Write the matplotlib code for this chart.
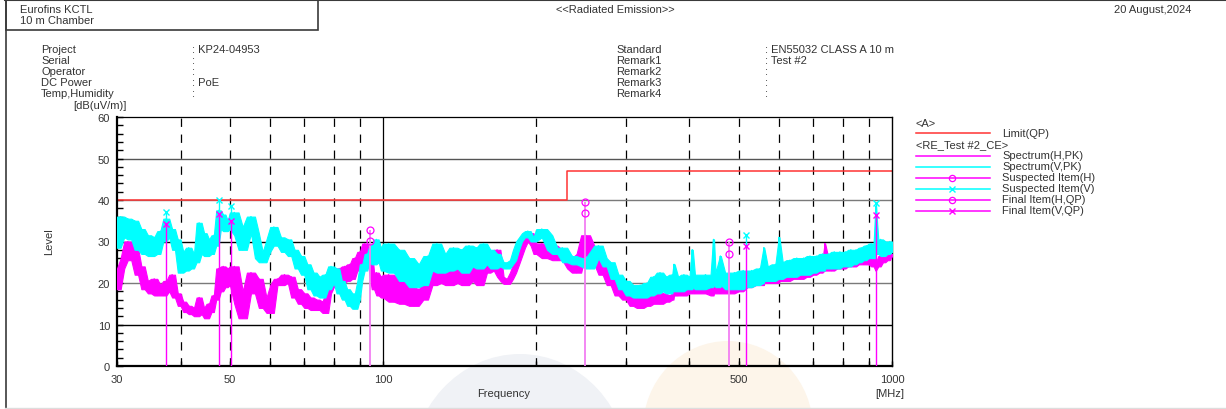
import matplotlib
matplotlib.use("Agg")
import matplotlib.pyplot as plt
from matplotlib.ticker import FixedLocator, FixedFormatter, MultipleLocator, NullFormatter
from matplotlib.patches import Ellipse, Rectangle

plt.rcParams["font.family"] = ["Liberation Sans", "DejaVu Sans"]
plt.rcParams["lines.scale_dashes"] = False

# ---------------- sweep data ----------------
FREQ_MHZ = [
    30.0, 30.5, 31.0, 31.5, 32.0, 32.5, 33.0, 33.5, 34.0, 34.5,
    35.0, 35.5, 36.0, 36.5, 37.0, 37.5, 38.0, 38.5, 39.0, 39.5,
    40.0, 40.5, 41.0, 41.5, 42.0, 42.5, 43.0, 43.5, 44.0, 44.5,
    45.0, 45.5, 46.0, 46.5, 47.0, 47.5, 48.0, 48.5, 49.0, 49.5,
    50, 51, 52, 53, 54, 55, 56, 57, 58, 59,
    60, 61, 62, 63, 64, 65, 66, 67, 68, 69,
    70, 71, 72, 73, 74, 75, 76, 77, 78, 79,
    80, 81, 82, 83, 84, 85, 86, 87, 88, 89,
    90, 91, 92, 93, 94, 95, 96, 97, 98, 99,
    100, 102.5, 105, 107.5, 110, 112.5, 115, 117.5, 120, 122.5,
    125, 127.5, 130, 132.5, 135, 137.5, 140, 142.5, 145, 147.5,
    150, 152.5, 155, 157.5, 160, 162.5, 165, 167.5, 170, 172.5,
    175, 177.5, 180, 182.5, 185, 187.5, 190, 192.5, 195, 197.5,
    200, 205, 210, 215, 220, 225, 230, 235, 240, 245,
    250, 255, 260, 265, 270, 275, 280, 285, 290, 295,
    300, 305, 310, 315, 320, 325, 330, 335, 340, 345,
    350, 355, 360, 365, 370, 372, 373, 374, 380, 385, 390, 395,
    400, 404, 405, 406, 410, 420, 430, 440, 445, 446, 447, 450, 459, 460, 461, 470, 480, 490,
    500, 510, 520, 530, 540, 550, 559, 560, 561, 570, 580, 590,
    599, 600, 601, 610, 620, 630, 640, 650, 660, 670, 680, 690,
    700, 710, 720, 730, 737, 738, 739, 750, 760, 770, 780, 790,
    800, 810, 820, 830, 840, 850, 860, 870, 880, 890,
    900, 910, 920, 928, 929, 930, 940, 950, 960, 970, 980, 990, 1000,
]

SPECTRUM_H_PK = [
    18.5, 23.5, 26.0, 30.0, 25.5, 28.5, 22.0, 24.0, 18.5, 20.5,
    17.5, 21.0, 17.0, 19.5, 17.0, 20.5, 18.0, 22.0, 16.5, 17.5,
    14.5, 15.5, 13.0, 14.5, 12.5, 14.0, 12.0, 16.5, 12.5, 14.0,
    11.5, 15.0, 13.0, 17.0, 16.0, 23.5, 18.0, 24.0, 19.0, 23.5,
    19.5, 24.0, 15.0, 11.5, 18.0, 22.5, 17.5, 21.0, 14.0, 16.5,
    12.8, 19.5, 21.0, 19.5, 22.0, 20.0, 21.5, 16.5, 18.5, 15.0,
    17.5, 14.0, 16.5, 13.5, 16.0, 13.5, 15.5, 12.8, 17.5, 19.0,
    21.5, 19.5, 23.5, 20.0, 24.0, 20.5, 24.5, 21.0, 26.0, 23.0,
    27.5, 24.5, 29.5, 26.5, 28.5, 22.0, 18.5, 22.5, 17.0, 21.5,
    16.5, 22.0, 15.5, 21.0, 15.0, 19.0, 14.5, 18.5, 16.0, 20.0,
    19.5, 23.0, 20.0, 22.5, 19.5, 23.5, 20.0, 22.5, 19.5, 24.0,
    20.5, 24.5, 19.5, 25.0, 22.5, 27.5, 23.0, 28.0, 21.5, 20.5,
    19.8, 21.0, 22.5, 24.5, 26.5, 28.5, 30.0, 31.0, 32.0, 29.0,
    27.0, 29.5, 26.0, 29.0, 25.5, 28.0, 26.0, 23.5, 22.5, 27.0,
    31.5, 29.0, 24.5, 27.0, 22.0, 24.5, 19.5, 21.0, 17.0, 18.5,
    16.0, 17.5, 14.5, 16.5, 14.0, 16.5, 14.5, 17.0, 15.0, 17.5,
    15.0, 17.5, 15.5, 17.0, 16.0, 17.5, 24.0, 17.0, 17.0, 19.0, 17.0, 19.0,
    17.5, 19.5, 17.5, 19.0, 17.5, 19.5, 17.5, 19.5, 17.0, 19.5, 17.5, 19.5, 17.5, 20.0, 17.5, 20.0, 17.5, 20.0,
    18.0, 21.0, 19.0, 21.5, 19.5, 22.0, 19.5, 22.0, 20.0, 22.5, 20.0, 22.5,
    20.0, 23.0, 20.5, 23.0, 20.5, 23.0, 21.0, 23.5, 21.0, 24.0, 21.5, 25.0,
    22.0, 25.5, 22.5, 25.5, 23.0, 29.5, 23.0, 26.0, 23.0, 26.0, 23.5, 26.5,
    23.5, 26.0, 24.0, 26.5, 24.0, 26.5, 24.5, 26.5, 24.5, 27.0,
    24.5, 26.5, 24.0, 25.5, 23.0, 25.0, 24.0, 26.5, 25.0, 27.0, 25.5, 27.0, 26.5,
]

SPECTRUM_V_PK = [
    28.5, 36.0, 31.0, 35.5, 30.5, 35.0, 28.0, 33.0, 27.0, 31.5,
    26.5, 31.0, 27.0, 32.5, 30.0, 35.5, 31.0, 33.0, 28.0, 30.5,
    22.5, 27.5, 23.0, 28.5, 23.5, 27.0, 25.0, 34.5, 27.0, 32.0,
    26.5, 30.5, 27.0, 31.5, 29.0, 37.5, 33.0, 36.5, 32.5, 35.0,
    33.0, 37.0, 31.5, 28.0, 33.5, 36.0, 32.0, 26.0, 25.0, 27.5,
    30.5, 33.5, 29.0, 31.0, 27.5, 30.5, 26.5, 28.0, 23.5, 26.5,
    22.0, 24.5, 18.5, 22.5, 17.0, 21.5, 16.5, 22.0, 18.5, 24.0,
    20.0, 23.5, 17.5, 20.5, 16.0, 18.5, 14.5, 17.5, 13.8, 16.0,
    20.5, 24.5, 23.0, 27.0, 25.0, 29.0, 24.5, 30.5, 25.0, 28.5,
    23.0, 29.5, 22.5, 28.0, 20.5, 26.0, 19.0, 24.5, 19.5, 26.5,
    23.0, 29.5, 22.5, 27.0, 23.0, 28.5, 23.5, 28.0, 22.5, 29.0,
    24.0, 28.5, 23.5, 29.5, 24.5, 28.0, 23.5, 27.0, 24.0, 25.0,
    23.5, 24.5, 25.5, 28.0, 30.0, 31.0, 32.0, 32.5, 31.0, 30.0,
    31.0, 33.0, 31.5, 28.0, 27.0, 28.5, 25.0, 26.5, 24.5, 26.0,
    24.0, 23.5, 27.5, 29.0, 26.0, 24.0, 25.0, 21.0, 22.0, 18.5,
    20.5, 17.0, 19.5, 16.5, 19.5, 16.5, 20.0, 17.0, 21.5, 17.5,
    22.5, 18.0, 21.5, 17.5, 22.0, 18.5, 24.5, 18.0, 21.5, 18.0, 22.0, 18.5,
    21.5, 18.5, 28.0, 19.0, 22.0, 18.5, 22.0, 19.0, 22.0, 30.5, 19.5, 22.5, 19.0, 26.5, 19.5, 22.5, 18.5, 22.5,
    18.5, 23.0, 19.0, 23.0, 19.5, 23.5, 20.0, 28.5, 20.5, 24.0, 20.5, 24.5,
    21.0, 31.0, 21.0, 25.0, 21.5, 25.5, 21.5, 26.0, 22.0, 26.0, 22.0, 26.5,
    22.5, 26.5, 23.0, 27.0, 23.0, 26.5, 23.5, 27.0, 23.5, 27.5, 23.5, 27.5,
    24.0, 27.5, 24.0, 28.0, 24.5, 28.0, 25.0, 28.5, 25.5, 29.0,
    26.0, 29.5, 26.0, 29.0, 38.5, 29.0, 27.0, 30.5, 26.5, 30.0, 27.0, 30.0, 27.5,
]

# Class A limit (quasi-peak), stepped at 230 MHz
LIMIT_FREQ = [30, 230, 1000]
LIMIT_QP = [40, 47, 47]

# Suspected / final items
SUSPECT_H_FREQ = [94.3, 249.4, 477.7]
SUSPECT_H_LEVEL = [32.8, 39.4, 30.0]
FINAL_H_LEVEL = [30.2, 36.8, 26.9]

SUSPECT_V_FREQ = [37.4, 47.7, 50.3, 517.0, 929.0]
SUSPECT_V_LEVEL = [37.0, 40.0, 38.5, 31.6, 39.2]
FINAL_V_LEVEL = [34.2, 36.6, 35.0, 28.8, 36.4]

X_TICKS = [30, 50, 100, 500, 1000]
X_TICK_LABELS = ["30", "50", "100", "500", "1000"]
X_MINOR = [40, 60, 70, 80, 90, 200, 300, 400, 600, 700, 800, 900]
X_DASHED = [40, 50, 60, 70, 80, 90, 200, 300, 400, 500, 600, 700, 800, 900]
Y_TICKS = [0, 10, 20, 30, 40, 50, 60]

HEADER_LEFT = [("Project", ": KP24-04953"), ("Serial", ":"), ("Operator", ":"),
               ("DC Power", ": PoE"), ("Temp,Humidity", ":")]
HEADER_RIGHT = [("Standard", ": EN55032 CLASS A 10 m"), ("Remark1", ": Test #2"),
                ("Remark2", ":"), ("Remark3", ":"), ("Remark4", ":")]

MAGENTA = "#ff00ff"
CYAN = "#00ffff"
RED = "#ff3333"
TXT = "#333333"


def sweep_band(values):
    """Lowest and highest reading among each sweep point and its neighbours."""
    n = len(values)
    lo = [min(values[max(0, i - 1):min(n, i + 2)]) for i in range(n)]
    hi = [max(values[max(0, i - 1):min(n, i + 2)]) for i in range(n)]
    return lo, hi


W, H = 1226, 410
fig = plt.figure(figsize=(W / 100, H / 100), dpi=100)
fig.patch.set_facecolor("white")

# background layer (pixel coordinates)
bg = fig.add_axes([0, 0, 1, 1], zorder=0)
bg.set_xlim(0, W)
bg.set_ylim(H, 0)
bg.axis("off")
bg.add_patch(Ellipse((520, 475), 220, 240, facecolor="#f0f2f6", edgecolor="none"))
bg.add_patch(Ellipse((728, 430), 170, 176, facecolor="#fdf5ea", edgecolor="none"))

# main plot
ax = fig.add_axes([117 / W, 1 - 367 / H, 775 / W, 249 / H], zorder=1)
ax.set_facecolor("none")
ax.set_xscale("log")
ax.set_xlim(30, 1000)
ax.set_ylim(0, 60)

for f in X_DASHED:
    ax.axvline(f, color="black", lw=0.9, ls=(0, (6.0, 5.5)), zorder=1)
ax.axvline(100, color="black", lw=0.9, zorder=1)
for lvl, col in [(10, "black"), (20, "#7a7a7a"), (30, "black"), (40, "#7a7a7a"), (50, "#555555")]:
    ax.axhline(lvl, color=col, lw=1.0, zorder=1)

ax.plot(LIMIT_FREQ, LIMIT_QP, drawstyle="steps-post", color=RED, lw=1.1, zorder=2)

# peak traces drawn as the noisy band each sweep covers
for values, col, z in [(SPECTRUM_H_PK, MAGENTA, 3), (SPECTRUM_V_PK, CYAN, 4)]:
    lo, hi = sweep_band(values)
    ax.fill_between(FREQ_MHZ, lo, hi, color=col, lw=0.8, edgecolor=col, zorder=z)
    ax.plot(FREQ_MHZ, values, color=col, lw=1.0, zorder=z)

# item stems: magenta up to the final reading, cyan on to the suspected V reading
ax.vlines(SUSPECT_V_FREQ, FINAL_V_LEVEL, SUSPECT_V_LEVEL, color=CYAN, lw=1.0, zorder=5)
ax.vlines(SUSPECT_V_FREQ, 0, FINAL_V_LEVEL, color=MAGENTA, lw=1.0, zorder=5)
ax.vlines(SUSPECT_H_FREQ, 0, SUSPECT_H_LEVEL, color="#f27ef2", lw=1.3, zorder=5)

ax.plot(SUSPECT_H_FREQ, SUSPECT_H_LEVEL, ls="none", marker="o", ms=5, mfc="none",
        mec=MAGENTA, mew=0.9, zorder=6)
ax.plot(SUSPECT_H_FREQ, FINAL_H_LEVEL, ls="none", marker="o", ms=5, mfc="none",
        mec=MAGENTA, mew=0.9, zorder=6)
ax.plot(SUSPECT_V_FREQ, SUSPECT_V_LEVEL, ls="none", marker="x", ms=5,
        mec=CYAN, mew=1.0, zorder=6)
ax.plot(SUSPECT_V_FREQ, FINAL_V_LEVEL, ls="none", marker="x", ms=5,
        mec=MAGENTA, mew=1.0, zorder=6)

ax.xaxis.set_major_locator(FixedLocator(X_TICKS))
ax.xaxis.set_major_formatter(FixedFormatter(X_TICK_LABELS))
ax.xaxis.set_minor_locator(FixedLocator(X_MINOR))
ax.xaxis.set_minor_formatter(NullFormatter())
ax.yaxis.set_major_locator(FixedLocator(Y_TICKS))
ax.yaxis.set_minor_locator(MultipleLocator(2))
ax.tick_params(axis="both", which="both", direction="in", color="black",
               labelcolor=TXT, labelsize=8, width=1.0)
ax.tick_params(axis="y", which="both", length=4.5, pad=5)
ax.tick_params(axis="x", which="both", length=3.5, pad=6)
for side, lw in [("left", 1.6), ("bottom", 1.6), ("top", 0.9), ("right", 1.0)]:
    ax.spines[side].set_linewidth(lw)
    ax.spines[side].set_color("black")

# overlay layer for headers, labels and legend (pixel coordinates)
ov = fig.add_axes([0, 0, 1, 1], zorder=2)
ov.set_xlim(0, W)
ov.set_ylim(H, 0)
ov.axis("off")
ov.set_facecolor("none")

frame = "#3a3a3a"
ov.plot([5, W], [1.0, 1.0], color=frame, lw=1.5)
ov.plot([5.5, 5.5], [0, H], color=frame, lw=1.2)
ov.plot([5, W], [408.5, 408.5], color="#dddddd", lw=1.0)
ov.add_patch(Rectangle((5.5, 1.0), 312, 30.3, facecolor="none", edgecolor=frame, lw=1.2))

fs = 8.0
ov.text(20, 10, "Eurofins KCTL", fontsize=fs, color=TXT, va="center")
ov.text(20, 21, "10 m Chamber", fontsize=fs, color=TXT, va="center")
ov.text(615, 10, "<<Radiated Emission>>", fontsize=fs, color=TXT, va="center", ha="center")
ov.text(1191, 10, "20 August,2024", fontsize=fs, color=TXT, va="center", ha="right")

for i, (k, v) in enumerate(HEADER_LEFT):
    y = 50 + 11 * i
    ov.text(41, y, k, fontsize=fs, color=TXT, va="center")
    ov.text(192, y, v, fontsize=fs, color=TXT, va="center")
for i, (k, v) in enumerate(HEADER_RIGHT):
    y = 50 + 11 * i
    ov.text(616, y, k, fontsize=fs, color=TXT, va="center")
    ov.text(765, y, v, fontsize=fs, color=TXT, va="center")

ov.text(100, 106, "[dB(uV/m)]", fontsize=fs, color=TXT, va="center", ha="center")
ov.text(49, 242, "Level", fontsize=fs, color=TXT, va="center", ha="center", rotation=90)
ov.text(504, 394, "Frequency", fontsize=fs, color=TXT, va="center", ha="center")
ov.text(890, 394, "[MHz]", fontsize=fs, color=TXT, va="center", ha="center")

# legend
ov.text(916, 124, "<A>", fontsize=fs, color=TXT, va="center")
ov.plot([916, 990], [134, 134], color=RED, lw=1.1)
ov.text(1002, 134, "Limit(QP)", fontsize=fs, color=TXT, va="center")
ov.text(916, 145, "<RE_Test #2_CE>", fontsize=fs, color=TXT, va="center")
legend_rows = [
    ("Spectrum(H,PK)", MAGENTA, None, MAGENTA),
    ("Spectrum(V,PK)", CYAN, None, CYAN),
    ("Suspected Item(H)", MAGENTA, "o", MAGENTA),
    ("Suspected Item(V)", CYAN, "x", CYAN),
    ("Final Item(H,QP)", MAGENTA, "o", MAGENTA),
    ("Final Item(V,QP)", MAGENTA, "x", MAGENTA),
]
for i, (label, col, mk, mcol) in enumerate(legend_rows):
    y = 156.5 + 11 * i
    ov.plot([916, 990], [y, y], color=col, lw=1.1)
    if mk == "o":
        ov.plot([952], [y], marker="o", ms=4.5, mfc="none", mec=mcol, mew=0.9)
    elif mk == "x":
        ov.plot([952], [y], marker="x", ms=4.5, mec=mcol, mew=1.0)
    ov.text(1002, y, label, fontsize=fs, color=TXT, va="center")

fig.savefig("out.png", dpi=100)
